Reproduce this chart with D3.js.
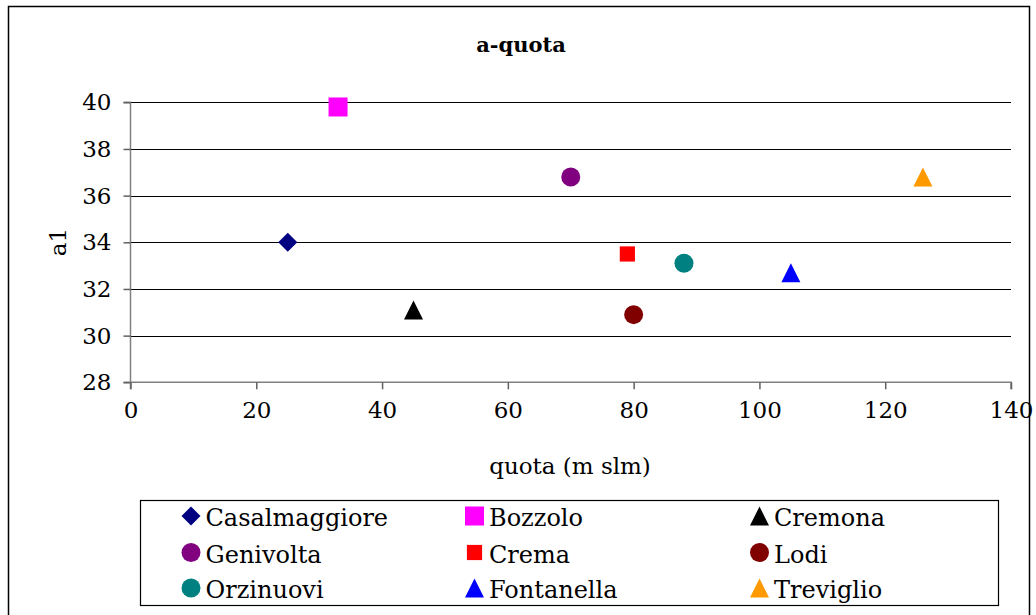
<!DOCTYPE html>
<html>
<head>
<meta charset="utf-8">
<script src="https://cdn.jsdelivr.net/npm/d3@7"></script>
<style>
  html, body { margin: 0; padding: 0; background: #fff; }
  svg { display: block; }
  svg text { font-family: "DejaVu Serif", "Liberation Serif", serif; fill: #000; }
</style>
</head>
<body>
<svg id="chart" width="1036" height="615"></svg>
<script>
// Stations, elevation (quota, m slm) and coefficient a1
const stations = ["Casalmaggiore", "Bozzolo", "Cremona", "Genivolta", "Crema", "Lodi", "Orzinuovi", "Fontanella", "Treviglio"];
const quota = [25, 33, 45, 70, 79, 80, 88, 105, 126];
const a1 = [34.0, 39.8, 31.1, 36.8, 33.5, 30.9, 33.1, 32.7, 36.8];
const markerShapes = ["diamond", "square", "triangle", "circle", "smallSquare", "circle", "circle", "triangle", "triangle"];
const markerColors = ["#000080", "#ff00ff", "#000000", "#800080", "#ff0000", "#800000", "#008080", "#0000ff", "#ff9900"];
const xTicks = [0, 20, 40, 60, 80, 100, 120, 140];
const yTicks = [28, 30, 32, 34, 36, 38, 40];

const FONT = "DejaVu Serif, Liberation Serif, serif";
const svg = d3.select("#chart");

// Outer frame
svg.append("rect").attr("x", 8.5).attr("y", 6.5).attr("width", 1021).attr("height", 620)
  .attr("fill", "none").attr("stroke", "#000").attr("stroke-width", 1.5);

const plot = { left: 130.5, right: 1011, top: 102.3, bottom: 382.3 };
const x = d3.scaleLinear().domain([0, 140]).range([plot.left, plot.right]);
const y = d3.scaleLinear().domain([28, 40]).range([plot.bottom, plot.top]);

// Horizontal gridlines
svg.append("g").selectAll("line").data(yTicks.filter(t => t > 28)).join("line")
  .attr("x1", plot.left).attr("x2", plot.right)
  .attr("y1", d => Math.round(y(d)) + 0.5).attr("y2", d => Math.round(y(d)) + 0.5)
  .attr("stroke", "#000").attr("stroke-width", 1);

// Axes
const yAxis = d3.axisLeft(y).tickValues(yTicks).tickSize(7).tickPadding(12).tickFormat(d3.format("d"));
const gy = svg.append("g").attr("transform", `translate(${plot.left},0)`).call(yAxis);
const xAxis = d3.axisBottom(x).tickValues(xTicks).tickSize(7).tickPadding(12).tickFormat(d3.format("d"));
const gx = svg.append("g").attr("transform", `translate(0,${plot.bottom})`).call(xAxis);
[gx, gy].forEach(g => {
  g.attr("font-family", FONT).attr("font-size", 23);
  g.select(".domain").attr("stroke", "#808080").attr("stroke-width", 1.5);
  g.selectAll(".tick line").attr("stroke", "#606060").attr("stroke-width", 1.5);
  g.selectAll(".tick text").attr("fill", "#000");
});
gy.select(".domain").attr("d", `M-7,${plot.top}H0V${plot.bottom}H-7`);
gx.select(".domain").attr("d", `M${plot.left},7V0H${plot.right}V7`);

// Marker symbols, "size" here is the bounding-box width in px
const symbolTypes = {
  diamond: { draw(ctx, s) { const r = s / 2; ctx.moveTo(0, -r); ctx.lineTo(r, 0); ctx.lineTo(0, r); ctx.lineTo(-r, 0); ctx.closePath(); } },
  square: { draw(ctx, s) { const r = s / 2; ctx.rect(-r, -r, s, s); } },
  smallSquare: { draw(ctx, s) { const r = s * 0.4; ctx.rect(-r, -r, 2 * r, 2 * r); } },
  triangle: { draw(ctx, s) { const r = s / 2; ctx.moveTo(0, -r); ctx.lineTo(r, r); ctx.lineTo(-r, r); ctx.closePath(); } },
  circle: { draw(ctx, s) { const r = s / 2; ctx.moveTo(r, 0); ctx.arc(0, 0, r, 0, 2 * Math.PI); } }
};
const marker = (shape, s) => d3.symbol(symbolTypes[shape], s)();

// Data points
svg.append("g").selectAll("path").data(stations).join("path")
  .attr("transform", (d, i) => `translate(${x(quota[i])},${y(a1[i])})`)
  .attr("d", (d, i) => marker(markerShapes[i], 19))
  .attr("fill", (d, i) => markerColors[i]);

// Titles
svg.append("text").attr("x", 521).attr("y", 52).attr("text-anchor", "middle")
  .attr("font-size", 21).attr("font-weight", "bold").text("a-quota");
svg.append("text").attr("x", 570).attr("y", 474).attr("text-anchor", "middle")
  .attr("font-size", 23).text("quota (m slm)");
svg.append("text").attr("transform", "translate(66,242) rotate(-90)").attr("text-anchor", "middle")
  .attr("font-size", 23).text("a1");

// Legend
svg.append("rect").attr("x", 140.5).attr("y", 500.5).attr("width", 858).attr("height", 105)
  .attr("fill", "#fff").attr("stroke", "#000").attr("stroke-width", 1.2);
const colX = [191, 474.5, 759.5];
const rowY = [516, 552.5, 588];
const leg = svg.append("g").selectAll("g").data(stations).join("g")
  .attr("transform", (d, i) => `translate(${colX[i % 3]},${rowY[Math.floor(i / 3)]})`);
leg.append("path")
  .attr("d", (d, i) => marker(markerShapes[i], 19))
  .attr("fill", (d, i) => markerColors[i]);
leg.append("text").attr("x", 14.5).attr("y", 10).attr("font-size", 24).text(d => d);
</script>
</body>
</html>
